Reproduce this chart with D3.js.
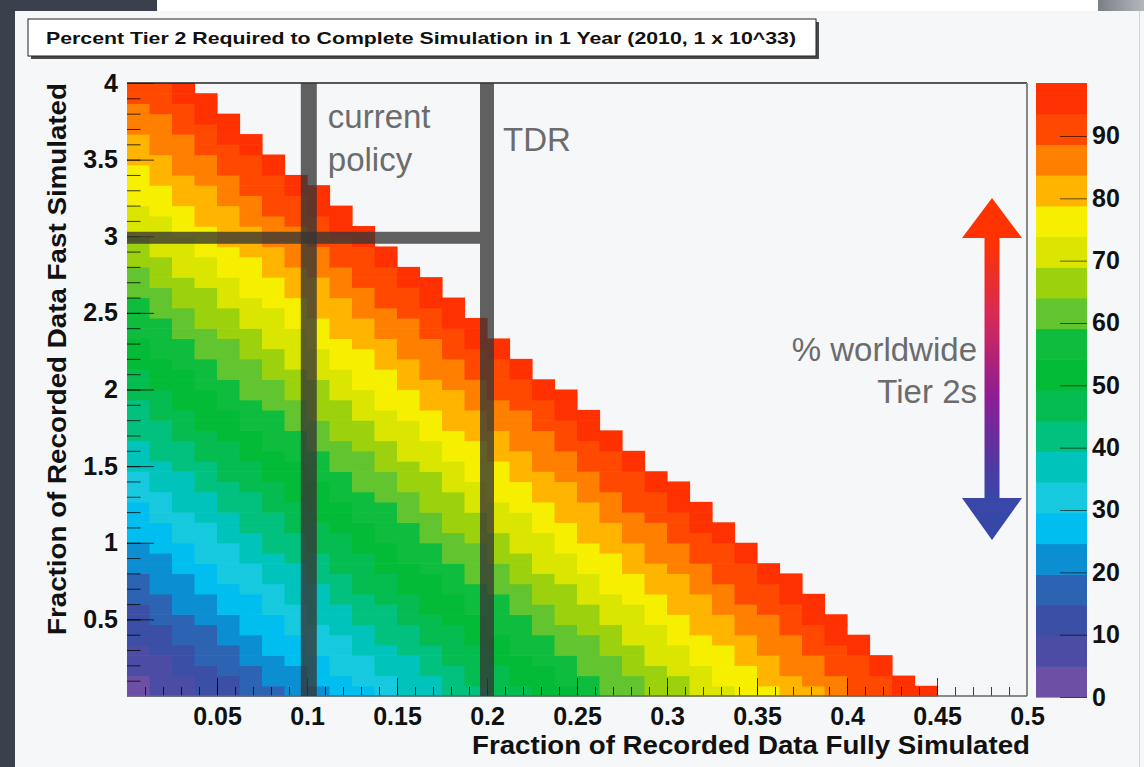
<!DOCTYPE html>
<html>
<head>
<meta charset="utf-8">
<script src="https://cdn.jsdelivr.net/npm/d3@7"></script>
<style>
  body { margin: 0; background: #f6f7f9; }
  svg { display: block; font-family: "Liberation Sans", Arial, Helvetica, sans-serif; }
</style>
</head>
<body>
<script>
// ---- chart data ----
var titleText = "Percent Tier 2 Required to Complete Simulation in 1 Year (2010, 1 x 10^33)";
var xTitle = "Fraction of Recorded Data Fully Simulated";
var yTitle = "Fraction of Recorded Data Fast Simulated";

var xRange = [0, 0.5], yRange = [0, 4];
var xBin = 0.0125, yBin = 4 / 60;
var xTicks = [0.05, 0.1, 0.15, 0.2, 0.25, 0.3, 0.35, 0.4, 0.45, 0.5];
var yTicks = [0.5, 1, 1.5, 2, 2.5, 3, 3.5, 4];
var zTicks = [0, 10, 20, 30, 40, 50, 60, 70, 80, 90];
var zMax = 98.5, nLevels = 20;

// colour level of every filled bin, one string per row of bins from the bottom,
// one character per x bin (0-9 then a-j = level 0..19)
var levelRows = [
  "011223344556778899aabccddeeffgghiijj",
  "01122344556677899aabbccddeffgghhiij",
  "11223344566778899aabccddeeffghhiij",
  "1123344556677899aabbccdeeffgghhiij",
  "1223345566778899abbccddeeffghhiij",
  "223344556678899aabbccdeeffgghhijj",
  "223345566778899abbccddeefgghhiij",
  "23344556778899aabbcddeeffgghhijj",
  "2344556677889aabbccddeefgghhiij",
  "3344556778899aabbcddeeffgghiijj",
  "344556677899aabbccddeffgghhiij",
  "344566778899aabccddeeffgghiijj",
  "44556677899aabbccdeeffgghhiij",
  "44566778899abbccddeeffghhiij",
  "4556678899aabbccdeeffgghhiij",
  "5566778899abbccddeefgghhiij",
  "556678899aabbcddeeffgghhijj",
  "56677889aabbccddeefgghhiij",
  "56778899aabbcddeeffgghiijj",
  "6677889aabbccddeffgghhiij",
  "6778899aabccddeeffgghiijj",
  "677899aabbccddeffgghhiij",
  "778899aabccddeeffghhiij",
  "78899aabbccdeeffgghhiij",
  "78899abbccddeeffghhiij",
  "8899aabbcddeeffgghhijj",
  "889aabbccddeefgghhiij",
  "899aabbcddeeffgghhijj",
  "89aabbccddeffgghhiij",
  "99aabccddeeffgghiijj",
  "9aabbccddeffgghhiij",
  "9aabccddeeffghhiij",
  "aabbccdeeffgghhiij",
  "abbccddeeffghhiij",
  "abbccdeeffgghhijj",
  "bbccddeefgghhiij",
  "bbcddeeffgghhijj",
  "bccddeefgghhiij",
  "bcddeeffgghiijj",
  "ccddeffgghhiij",
  "cddeeffgghiijj",
  "cdeeffgghhiij",
  "ddeeffghhiij",
  "deeffgghhiij",
  "deefgghhiij",
  "eeffgghhijj",
  "eefgghhiij",
  "effgghiijj",
  "ffgghhiij",
  "ffgghiijj",
  "fgghhiij",
  "fghhiij",
  "gghhiij",
  "ghhiij",
  "ghhijj",
  "hhiij",
  "hhijj",
  "hiij",
  "iijj",
  "iij"
];

var palette = [
  "#6d50a6", "#4c4ca5", "#3b4fa7", "#2d63b3", "#0b8fd2", "#00bff0", "#17c9de",
  "#00c4bc", "#02c17f", "#04bc4f", "#03bb37", "#0ebd3e", "#62c42f", "#9cd20d",
  "#dae500", "#f7ef00", "#ffb400", "#ff7f00", "#ff4900", "#ff3100"
];

// drawn-on reference lines
var policyX = [0.101, 0.2];
var fastLineY = 2.99;
var policyLabels = [["current", "policy"], ["TDR"]];
var arrowLabel = ["% worldwide", "Tier 2s"];

// ---- layout ----
var W = 1144, H = 767;
var plot = {left: 127, right: 1027, top: 83, bottom: 696};

var svg = d3.select("body").append("svg")
    .attr("width", W)
    .attr("height", H);

var defs = svg.append("defs");

// page backdrop
svg.append("rect").attr("width", W).attr("height", H).attr("fill", "#f6f7f9");
svg.append("rect").attr("x", 0).attr("y", 0).attr("width", W).attr("height", 11).attr("fill", "#ffffff");
svg.append("rect").attr("x", 0).attr("y", 0).attr("width", 157).attr("height", 11).attr("fill", "#3a404c");
svg.append("rect").attr("x", 0).attr("y", 0).attr("width", 15).attr("height", H).attr("fill", "#3a404c");
var tr = defs.append("linearGradient").attr("id", "trgrad");
tr.append("stop").attr("offset", "0%").attr("stop-color", "#7a7e86");
tr.append("stop").attr("offset", "100%").attr("stop-color", "#b4b7bc");
svg.append("rect").attr("x", 1098).attr("y", 0).attr("width", 46).attr("height", 11).attr("fill", "url(#trgrad)");
svg.append("rect").attr("x", 1139).attr("y", 11).attr("width", 1).attr("height", H - 11).attr("fill", "#d3d5d8");

// title box
svg.append("rect").attr("x", 31).attr("y", 22).attr("width", 788).attr("height", 37).attr("fill", "#4a4a4a");
svg.append("rect").attr("x", 28).attr("y", 19).attr("width", 788).attr("height", 37)
    .attr("fill", "#ffffff").attr("stroke", "#222").attr("stroke-width", 1);
svg.append("text")
    .attr("x", 46).attr("y", 44)
    .attr("font-size", 17).attr("font-weight", "bold").attr("fill", "#111")
    .attr("textLength", 750).attr("lengthAdjust", "spacingAndGlyphs")
    .text(titleText);

// scales
var x = d3.scaleLinear().domain(xRange).range([plot.left, plot.right]);
var y = d3.scaleLinear().domain(yRange).range([plot.bottom, plot.top]);
var color = d3.scaleQuantize().domain([0, zMax]).range(palette);

// bins
var cells = [];
levelRows.forEach(function(row, j) {
  row.split("").forEach(function(ch, i) {
    var lev = parseInt(ch, 20);
    cells.push({i: i, j: j, z: (lev + 0.5) * zMax / nLevels});
  });
});

svg.append("g").selectAll("rect")
    .data(cells)
  .enter().append("rect")
    .attr("x", function(d) { return x(d.i * xBin); })
    .attr("y", function(d) { return y((d.j + 1) * yBin); })
    .attr("width", function(d) { return x((d.i + 1) * xBin) - x(d.i * xBin) + 0.6; })
    .attr("height", function(d) { return y(d.j * yBin) - y((d.j + 1) * yBin) + 0.6; })
    .attr("fill", function(d) { return color(d.z); });

// axes (ticks drawn inward like ROOT)
var fmt = function(d) { return String(+d.toFixed(2)); };
var yMinor = d3.range(1, 40).map(function(k) { return k / 10; });
var xMinor = d3.range(1, 50).map(function(k) { return k / 100; });

var gyMinor = svg.append("g").attr("transform", "translate(" + plot.left + ",0)")
    .call(d3.axisLeft(y).tickValues(yMinor).tickSize(-13.5).tickFormat(""));
var gy = svg.append("g").attr("transform", "translate(" + plot.left + ",0)")
    .call(d3.axisLeft(y).tickValues(yTicks).tickSize(-27).tickPadding(9).tickFormat(fmt));
var gxMinor = svg.append("g").attr("transform", "translate(0," + plot.bottom + ")")
    .call(d3.axisBottom(x).tickValues(xMinor).tickSize(-9).tickFormat(""));
var gx = svg.append("g").attr("transform", "translate(0," + plot.bottom + ")")
    .call(d3.axisBottom(x).tickValues(xTicks).tickSize(-18).tickPadding(11).tickFormat(fmt));

[gyMinor, gy, gxMinor, gx].forEach(function(g) {
  g.select(".domain").remove();
  g.selectAll(".tick line").attr("stroke", "#000").attr("stroke-opacity", 0.75);
  g.attr("font-family", null).attr("font-size", null);
  g.selectAll("text").attr("font-size", 25).attr("font-weight", "bold").attr("fill", "#111");
});

// frame
svg.append("line").attr("x1", plot.left).attr("x2", plot.right).attr("y1", plot.top).attr("y2", plot.top)
    .attr("stroke", "#222").attr("stroke-width", 1.5);
svg.append("line").attr("x1", plot.right).attr("x2", plot.right).attr("y1", plot.top).attr("y2", plot.bottom)
    .attr("stroke", "#888").attr("stroke-width", 2);
svg.append("line").attr("x1", plot.left).attr("x2", plot.right).attr("y1", plot.bottom).attr("y2", plot.bottom)
    .attr("stroke", "#666").attr("stroke-width", 1.5);

// axis titles
svg.append("text")
    .attr("x", 1030).attr("y", 754)
    .attr("text-anchor", "end")
    .attr("font-size", 26).attr("font-weight", "bold").attr("fill", "#111")
    .attr("textLength", 558).attr("lengthAdjust", "spacingAndGlyphs")
    .text(xTitle);
svg.append("text")
    .attr("transform", "translate(66,83) rotate(-90)")
    .attr("text-anchor", "end")
    .attr("font-size", 26).attr("font-weight", "bold").attr("fill", "#111")
    .attr("textLength", 552).attr("lengthAdjust", "spacingAndGlyphs")
    .text(yTitle);

// reference bars (semi transparent, so the crossing gets darker)
var barFill = "rgba(54,54,54,0.78)";
svg.append("rect")
    .attr("x", plot.left)
    .attr("y", y(fastLineY) - 6)
    .attr("width", x(policyX[1]) - 7 - plot.left)
    .attr("height", 12)
    .attr("fill", barFill);
svg.append("g").selectAll("rect")
    .data(policyX)
  .enter().append("rect")
    .attr("x", function(d, i) { return x(d) - (i === 0 ? 8 : 7); })
    .attr("y", plot.top)
    .attr("width", function(d, i) { return i === 0 ? 16 : 14; })
    .attr("height", plot.bottom - plot.top)
    .attr("fill", barFill);

// labels next to the bars
var annot = svg.append("g").attr("font-size", 33).attr("fill", "#6c6c6c");
policyLabels.forEach(function(lines, k) {
  lines.forEach(function(t, n) {
    annot.append("text")
        .attr("x", x(policyX[k]) + (k === 0 ? 19 : 16))
        .attr("y", (k === 0 ? 128 : 151) + n * 43)
        .text(t);
  });
});
arrowLabel.forEach(function(t, n) {
  annot.append("text")
      .attr("x", 977).attr("y", 361 + n * 42)
      .attr("text-anchor", "end")
      .text(t);
});

// double arrow with red -> purple -> blue gradient
var ag = defs.append("linearGradient").attr("id", "arrowgrad")
    .attr("gradientUnits", "userSpaceOnUse")
    .attr("x1", 0).attr("x2", 0).attr("y1", 198).attr("y2", 540);
[[0, "#ff3300"], [0.12, "#ff3300"], [0.34, "#d82a55"], [0.58, "#8e1d95"], [0.77, "#52379f"], [0.88, "#3a47a8"], [1, "#3447a8"]]
  .forEach(function(s) { ag.append("stop").attr("offset", s[0]).attr("stop-color", s[1]); });
var ax = 992, hw = 30, sw = 7.5;
var arrowPts = [
  [ax, 198], [ax + hw, 238], [ax + sw, 238], [ax + sw, 498], [ax + hw, 498],
  [ax, 540], [ax - hw, 498], [ax - sw, 498], [ax - sw, 238], [ax - hw, 238]
];
svg.append("path")
    .attr("d", d3.line()(arrowPts) + "Z")
    .attr("fill", "url(#arrowgrad)");

// colour bar
var cb = {left: 1036, right: 1087};
var zc = d3.scaleLinear().domain([0, zMax]).range([697, plot.top]);
var bands = d3.range(nLevels).map(function(k) { return {lo: k * zMax / nLevels, hi: (k + 1) * zMax / nLevels}; });
svg.append("g").selectAll("rect")
    .data(bands)
  .enter().append("rect")
    .attr("x", cb.left)
    .attr("width", cb.right - cb.left)
    .attr("y", function(d) { return zc(d.hi); })
    .attr("height", function(d) { return zc(d.lo) - zc(d.hi) + 0.6; })
    .attr("fill", function(d) { return color((d.lo + d.hi) / 2); });

var gz = svg.append("g").attr("transform", "translate(" + cb.right + ",0)")
    .call(d3.axisRight(zc).tickValues(zTicks).tickSize(-27).tickPadding(5));
gz.select(".domain").remove();
gz.attr("font-family", null).attr("font-size", null);
gz.selectAll(".tick line").attr("stroke", "#000").attr("stroke-opacity", 0.6);
gz.selectAll("text").attr("font-size", 25).attr("font-weight", "bold").attr("fill", "#111");
</script>
</body>
</html>
